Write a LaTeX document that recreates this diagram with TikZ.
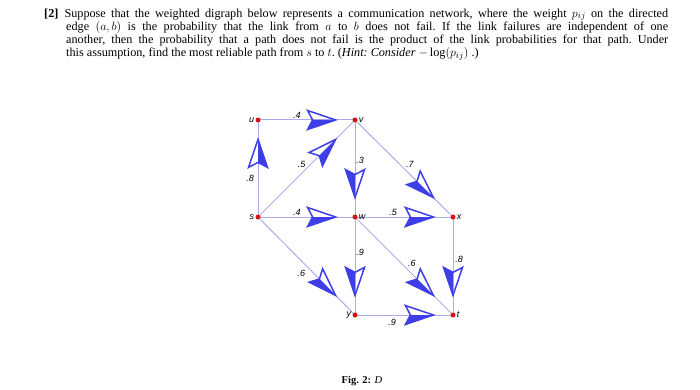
\documentclass[tikz,border=0pt]{standalone}
\usepackage{fontspec}
\setmainfont{Liberation Serif}
\setsansfont{Liberation Sans}
\usetikzlibrary{decorations.markings,backgrounds}
\definecolor{edgecol}{RGB}{172,172,236}
\definecolor{arrcol}{RGB}{62,62,232}
\definecolor{dotcol}{RGB}{215,20,20}
\tikzset{
  dot/.style={circle,fill=dotcol,inner sep=0pt,minimum size=5pt},
  vlab/.style={font=\sffamily\itshape\fontsize{9}{10}\selectfont,inner sep=1pt},
  wlab/.style={font=\sffamily\itshape\fontsize{9}{10}\selectfont,inner sep=0pt},
  kite/.style={postaction={decorate,decoration={markings,mark=at position 0.8 with {
     \fill[arrcol] (0pt,0pt) -- (-23pt,0pt) -- (-28pt,-9.5pt) -- cycle;
     \draw[arrcol,line width=1.5pt,line join=miter] (0pt,0pt) -- (-28pt,9.5pt) -- (-23pt,0pt) -- (-28pt,-9.5pt) -- cycle;}}}},
  link/.style={draw=edgecol,line width=1pt,kite},
}
\begin{document}
\begin{tikzpicture}[x=1pt,y=-1pt]
\useasboundingbox (0,0) rectangle (700,390);
% problem text
\node[anchor=north west,inner sep=0pt,text width=624pt,align=justify,
      font=\fontsize{12.2}{13.1}\selectfont] (txt) at (44,8.5)
 {\frenchspacing\hangindent=22pt\hangafter=1\noindent\textbf{[2]}\hspace{0.5em}Suppose that the weighted digraph below represents a communication network, where the weight $p_{ij}$ on the directed\linebreak
 edge $(a,b)$ is the probability that the link from $a$ to $b$ does not fail. If the link failures are independent of one\linebreak
 another, then the probability that a path does not fail is the product of the link probabilities for that path. Under\linebreak
 this assumption, find the most reliable path from $s$ to $t$. (\textit{Hint: Consider} $-\log(p_{ij})$ .)\par};
% vertices
\node[dot,label={[vlab]left:u}] (u) at (258,120) {};
\node[dot,label={[vlab]right:v}] (v) at (355,120) {};
\node[dot,label={[vlab]left:s}] (s) at (258,217) {};
\node[dot,label={[vlab]right:w}] (w) at (355,217) {};
\node[dot,label={[vlab]right:x}] (x) at (453,217) {};
\node[dot,label={[vlab]left:y}] (y) at (355,315) {};
\node[dot,label={[vlab]right:t}] (t) at (453,315) {};
\begin{scope}[on background layer]
\draw[link] (u.center) -- node[wlab,pos=0.40,yshift=4.5pt]{.4} (v.center);
\draw[link] (s.center) -- node[wlab,pos=0.40,xshift=-8pt]{.8} (u.center);
\draw[link] (s.center) -- node[wlab,pos=0.48,xshift=-3pt,yshift=5.5pt]{.5} (v.center);
\draw[link] (v.center) -- node[wlab,pos=0.42,xshift=5pt]{.3} (w.center);
\draw[link] (v.center) -- node[wlab,pos=0.51,xshift=5pt,yshift=5.5pt]{.7} (x.center);
\draw[link] (s.center) -- node[wlab,pos=0.40,yshift=4.5pt]{.4} (w.center);
\draw[link] (w.center) -- node[wlab,pos=0.39,yshift=4.5pt]{.5} (x.center);
\draw[link] (w.center) -- node[wlab,pos=0.36,xshift=5pt]{.9} (y.center);
\draw[link] (s.center) -- node[wlab,pos=0.51,xshift=-6pt,yshift=-6pt]{.6} (y.center);
\draw[link] (w.center) -- node[wlab,pos=0.53,xshift=5pt,yshift=6pt]{.6} (t.center);
\draw[link] (x.center) -- node[wlab,pos=0.43,xshift=6pt]{.8} (t.center);
\draw[link] (y.center) -- node[wlab,pos=0.38,yshift=-7pt]{.9} (t.center);
\end{scope}
% caption
\node[font=\fontsize{10.5}{12}\selectfont] (cap) at (362,381) {\textbf{Fig. 2:} \textit{D}};
\end{tikzpicture}
\end{document}
